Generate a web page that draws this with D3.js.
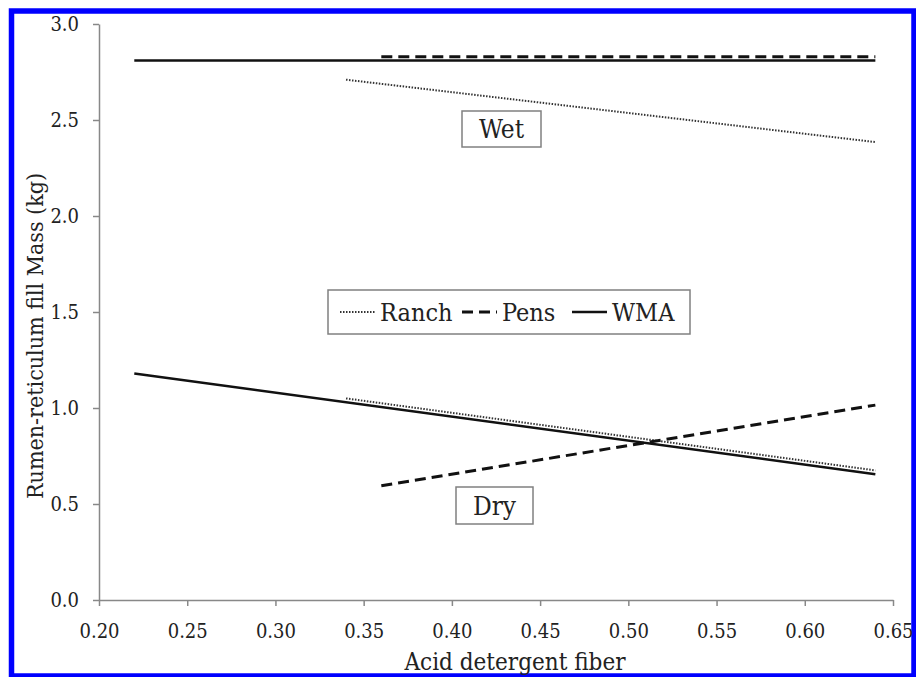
<!DOCTYPE html>
<html>
<head>
	<meta charset="utf-8">
	<title>Rumen-reticulum fill</title>
	<style type="text/css">
		body {
			margin: 0;
			background: #fff;
		}
		.tick text, .label {
			font-family: "DejaVu Serif Condensed", "DejaVu Serif", serif;
			font-stretch: condensed;
			fill: #222;
		}
		.tick text {
			font-size: 20px;
		}
		.axis path, .axis line {
			stroke: #888;
			stroke-width: 1.5;
		}
		.box {
			fill: #fff;
			stroke: #808080;
			stroke-width: 1.5;
		}
		.ranch { stroke: #333; stroke-width: 2; stroke-dasharray: 1.5,1.5; fill: none; }
		.pens  { stroke: #111; stroke-width: 3; stroke-dasharray: 11,6; fill: none; }
		.wma   { stroke: #111; stroke-width: 2.5; fill: none; }
	</style>
</head>
<body>
	<div id="chart"></div>
	<script src="https://cdnjs.cloudflare.com/ajax/libs/d3/7.8.5/d3.min.js"></script>
	<script type="text/javascript">
		var width = 916,
			height = 677;

		// tick values
		var xTicks = [0.20, 0.25, 0.30, 0.35, 0.40, 0.45, 0.50, 0.55, 0.60, 0.65];
		var yTicks = [0.0, 0.5, 1.0, 1.5, 2.0, 2.5, 3.0];

		// fitted lines, [x, y] at each end
		var ranchWet = [[0.34, 2.71], [0.64, 2.385]];
		var pensWet  = [[0.36, 2.83], [0.64, 2.83]];
		var wmaWet   = [[0.22, 2.81], [0.64, 2.81]];
		var ranchDry = [[0.34, 1.05], [0.64, 0.675]];
		var pensDry  = [[0.36, 0.595], [0.64, 1.015]];
		var wmaDry   = [[0.22, 1.18], [0.64, 0.655]];

		var legendItems = ["Ranch", "Pens", "WMA"];

		var margin = {top: 24, right: 23, bottom: 77, left: 99};

		var svg = d3.select("#chart")
			.append("svg")
			.attr("width", width)
			.attr("height", height);

		// blue frame
		svg.append("rect")
			.attr("x", 11.5)
			.attr("y", 11)
			.attr("width", 902.5)
			.attr("height", 665)
			.attr("fill", "none")
			.attr("stroke", "#0000ff")
			.attr("stroke-width", 5.5);

		var x = d3.scaleLinear()
			.domain([0.20, 0.65])
			.range([margin.left, width - margin.right]);

		var y = d3.scaleLinear()
			.domain([0, 3.0])
			.range([height - margin.bottom, margin.top]);

		svg.append("g")
			.attr("class", "axis")
			.attr("transform", "translate(0," + y(0) + ")")
			.call(d3.axisBottom(x).tickValues(xTicks).tickFormat(d3.format(".2f")).tickSize(6).tickSizeOuter(0))
			.selectAll("text").attr("y", 38).attr("dy", 0);

		svg.append("g")
			.attr("class", "axis")
			.attr("transform", "translate(" + x(0.20) + ",0)")
			.call(d3.axisLeft(y).tickValues(yTicks).tickFormat(d3.format(".1f")).tickSize(6).tickSizeOuter(0))
			.selectAll("text").attr("x", -20);

		// axis titles
		svg.append("text")
			.attr("class", "label")
			.attr("x", 515)
			.attr("y", 670)
			.attr("text-anchor", "middle")
			.style("font-size", "24px")
			.text("Acid detergent fiber");

		svg.append("text")
			.attr("class", "label")
			.attr("transform", "translate(43,336) rotate(-90)")
			.attr("text-anchor", "middle")
			.style("font-size", "23px")
			.text("Rumen-reticulum fill Mass (kg)");

		var line = d3.line()
			.x(function(d) { return x(d[0]); })
			.y(function(d) { return y(d[1]); });

		// draw the lines
		var lines = [
			{data: wmaWet, cls: "wma"},
			{data: pensWet, cls: "pens"},
			{data: ranchWet, cls: "ranch"},
			{data: wmaDry, cls: "wma"},
			{data: ranchDry, cls: "ranch"},
			{data: pensDry, cls: "pens"}
		];

		svg.selectAll(".series")
			.data(lines)
			.enter()
			.append("path")
			.attr("class", function(d) { return "series " + d.cls; })
			.attr("d", function(d) { return line(d.data); });

		// Wet / Dry boxes
		function labelBox(text, cx, cy, w, h) {
			svg.append("rect")
				.attr("class", "box")
				.attr("x", cx - w / 2)
				.attr("y", cy - h / 2)
				.attr("width", w)
				.attr("height", h);
			svg.append("text")
				.attr("class", "label")
				.attr("x", cx)
				.attr("y", cy + 9)
				.attr("text-anchor", "middle")
				.style("font-size", "26px")
				.text(text);
		}
		labelBox("Wet", 501.5, 129, 79, 36);
		labelBox("Dry", 494.5, 505.5, 77, 37);

		// legend
		svg.append("rect")
			.attr("class", "box")
			.attr("x", 328)
			.attr("y", 290)
			.attr("width", 362)
			.attr("height", 44);

		var legendX = [340, 462, 572];
		var legend = svg.selectAll(".legend-item")
			.data(legendItems)
			.enter()
			.append("g")
			.attr("class", "legend-item")
			.attr("transform", function(d, i) { return "translate(" + legendX[i] + ",312)"; });

		legend.append("line")
			.attr("class", function(d) { return d.toLowerCase(); })
			.attr("x1", 0)
			.attr("x2", 35)
			.attr("y1", 0)
			.attr("y2", 0);

		legend.append("text")
			.attr("class", "label")
			.attr("x", 40)
			.attr("y", 9)
			.style("font-size", "25px")
			.text(function(d) { return d; });
	</script>
</body>
</html>
